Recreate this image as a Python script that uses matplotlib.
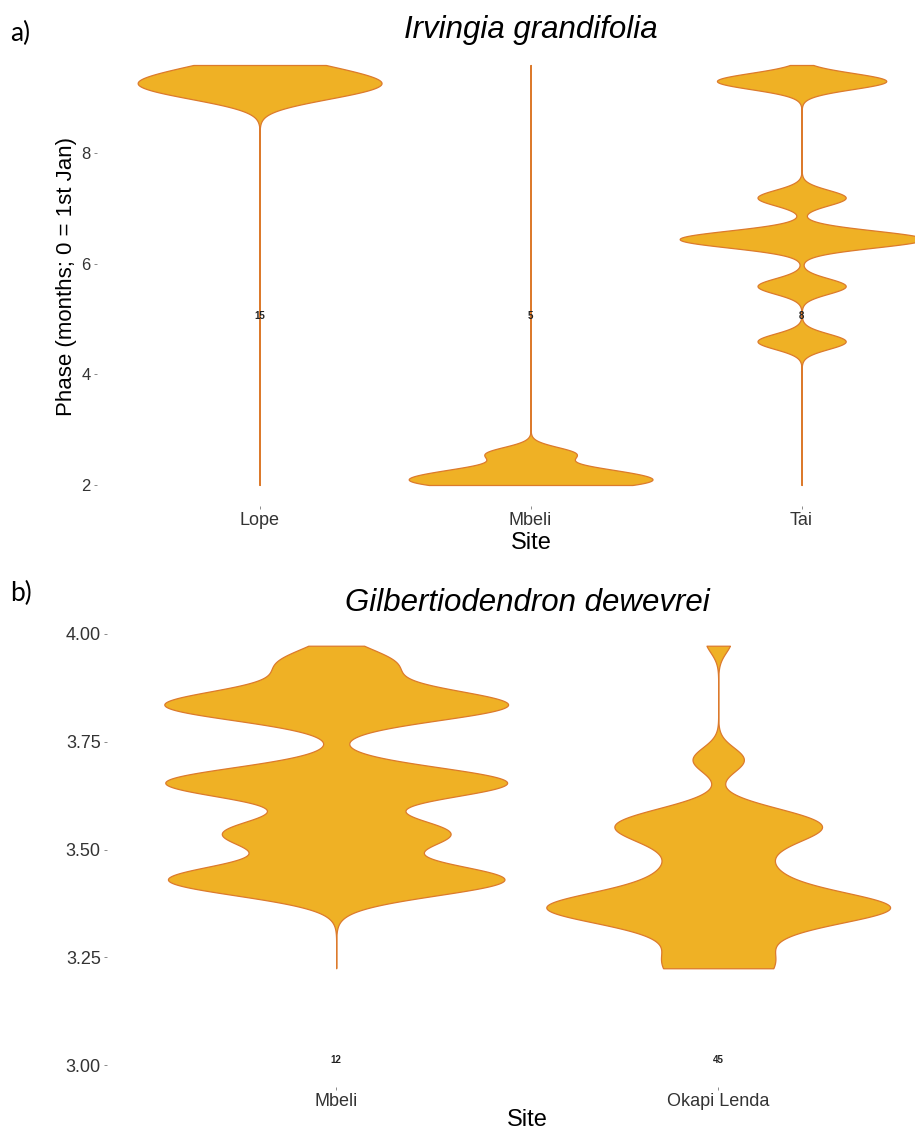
import numpy as np
import matplotlib
matplotlib.use("Agg")
import matplotlib.pyplot as plt

plt.rcParams["font.family"] = ["Liberation Sans", "DejaVu Sans"]

# ---- data (phase in months, 0 = 1st Jan) ----
sites_a = ["Lope", "Mbeli", "Tai"]
lope_phase = [8.95, 9.02, 9.08, 9.13, 9.18, 9.22, 9.26, 9.28, 9.31, 9.35,
              9.4, 9.45, 9.52, 9.6, 9.65]
mbeli_a_phase = [1.98, 2.07, 2.15, 2.28, 2.57]
tai_phase = [4.6, 5.6, 6.38, 6.45, 6.52, 7.2, 9.27, 9.35]
counts_a = [15, 5, 8]
bw_a = [0.17, 0.12, 0.14]
range_a = (2.0, 9.6)

sites_b = ["Mbeli", "Okapi Lenda"]
mbeli_b_phase = [3.42, 3.43, 3.44, 3.53, 3.545, 3.65, 3.655, 3.66,
                 3.83, 3.835, 3.84, 3.93]
okapi_phase = [3.18, 3.19, 3.21, 3.232, 3.243, 3.254,
               3.275, 3.295, 3.31, 3.322,
               3.332, 3.34, 3.347, 3.352, 3.356, 3.36, 3.363, 3.366, 3.369,
               3.372, 3.376, 3.381, 3.387, 3.394, 3.402,
               3.412, 3.424, 3.438, 3.454, 3.47,
               3.49, 3.508, 3.522,
               3.533, 3.541, 3.548, 3.554, 3.56, 3.567, 3.575, 3.585, 3.598,
               3.703, 3.713,
               3.985]
counts_b = [12, 45]
bw_b = [0.035, 0.028]
range_b = (3.225, 3.972)

fill_col = "#EFB125"
edge_col = "#DC7A2C"


def violin(ax, pos, vals, bw, yr, half_max=0.45):
    # gaussian kde, trimmed to yr, scaled to the same max width
    grid = np.linspace(yr[0], yr[1], 600)
    vals = np.asarray(vals)
    d = (grid[:, None] - vals[None, :]) / bw
    dens = np.exp(-0.5 * d ** 2).sum(axis=1)
    half = dens / dens.max() * half_max
    ax.fill_betweenx(grid, pos - half, pos + half, facecolor=fill_col,
                     edgecolor=edge_col, linewidth=0.9, zorder=2)


def style(ax, ylab_size, xlab_size):
    for s in ax.spines.values():
        s.set_visible(False)
    ax.tick_params(axis="both", length=2.5, width=0.6, color="#777777",
                   labelcolor="#333333", pad=2)
    ax.tick_params(axis="y", labelsize=ylab_size)
    ax.tick_params(axis="x", labelsize=xlab_size)


fig = plt.figure(figsize=(9.15, 11.31), dpi=100)

# ---- panel a ----
ax1 = fig.add_axes([97 / 915, 1 - 506 / 1131, 818 / 915, 462 / 1131])
for i, (v, bw) in enumerate(zip([lope_phase, mbeli_a_phase, tai_phase], bw_a)):
    violin(ax1, i + 1, v, bw, range_a)
    ax1.text(i + 1, 5.05, str(counts_a[i]), ha="center", va="center",
             fontsize=7, fontweight="bold", color="#222222", zorder=3)
ax1.set_xlim(0.4, 0.4 + 818 / 271)
ax1.set_ylim(1.62, 9.98)
ax1.set_xticks([1, 2, 3])
ax1.set_xticklabels(sites_a)
ax1.set_yticks([2, 4, 6, 8])
style(ax1, 12, 13)

# ---- panel b ----
ax2 = fig.add_axes([107 / 915, 1 - 1087 / 1131, 808 / 915, 462 / 1131])
for i, (v, bw) in enumerate(zip([mbeli_b_phase, okapi_phase], bw_b)):
    violin(ax2, i + 1, v, bw, range_b)
    ax2.text(i + 1, 3.012, str(counts_b[i]), ha="center", va="center",
             fontsize=7, fontweight="bold", color="#222222", zorder=3)
ax2.set_xlim(0.4, 0.4 + 808 / 382)
ax2.set_ylim(2.95, 4.02)
ax2.set_xticks([1, 2])
ax2.set_xticklabels(sites_b)
ax2.set_yticks([3.0, 3.25, 3.5, 3.75, 4.0])
ax2.set_yticklabels(["3.00", "3.25", "3.50", "3.75", "4.00"])
style(ax2, 13, 13)

# ---- titles and labels ----
fig.text(531 / 915, 1 - 30 / 1131, "Irvingia grandifolia", ha="center",
         va="center", fontsize=22.5, style="italic")
fig.text(527 / 915, 1 - 603 / 1131, "Gilbertiodendron dewevrei", ha="center",
         va="center", fontsize=22.5, style="italic")
fig.text(531 / 915, 1 - 543 / 1131, "Site", ha="center", va="center", fontsize=17)
fig.text(527 / 915, 1 - 1120 / 1131, "Site", ha="center", va="center", fontsize=17)
fig.text(67 / 915, 1 - 277 / 1131, "Phase (months; 0 = 1st Jan)", ha="center",
         va="center", rotation=90, fontsize=16)
fig.text(10 / 915, 1 - 33 / 1131, "a)", ha="left", va="center", fontsize=19,
         family=["Lato", "DejaVu Sans"])
fig.text(10 / 915, 1 - 593 / 1131, "b)", ha="left", va="center", fontsize=19,
         family=["Lato", "DejaVu Sans"])

fig.savefig("out.png", dpi=100)
